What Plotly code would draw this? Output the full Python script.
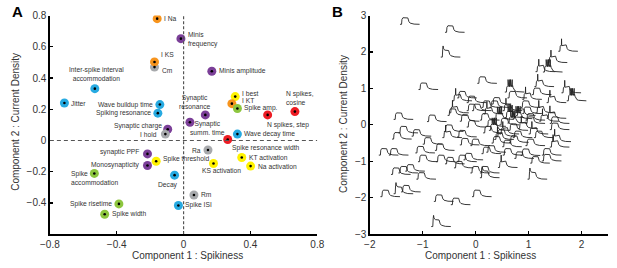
import plotly.graph_objects as go

# ---------------- Panel A data ----------------
feat_names = [
    "Cm", "I Na", "Minis<br>frequency", "I KS", "Minis amplitude",
    "Inter-spike interval<br>accommodation", "Jitter", "Wave buildup time",
    "Spiking resonance", "I best", "I KT", "Spike amp.", "N spikes,<br>cosine",
    "N spikes, step", "Synaptic<br>resonance", "Synaptic<br>summ. time",
    "Synaptic charge", "I hold", "Wave decay time", "Spike resonance width",
    "Ra", "synaptic PPF", "Spike threshold", "KT activation", "Monosynapticity",
    "KS activation", "Na activation", "Spike<br>accommodation", "Decay", "Rm",
    "Spike risetime", "Spike ISI", "Spike width",
]
feat_x = [
    -0.174, -0.158, -0.016, -0.174, 0.169,
    -0.531, -0.713, -0.142,
    -0.154, 0.309, 0.289, 0.322, 0.666,
    0.503, 0.130, 0.038,
    -0.095, -0.109, 0.322, 0.264,
    0.146, -0.216, -0.164, 0.348, -0.216,
    0.179, 0.401, -0.534, -0.054, 0.062,
    -0.387, -0.031, -0.472,
]
feat_y = [
    0.470, 0.780, 0.652, 0.503, 0.443,
    0.332, 0.240, 0.230,
    0.175, 0.281, 0.236, 0.205, 0.185,
    0.164, 0.164, 0.117,
    0.072, 0.041, 0.041, 0.006,
    -0.061, -0.086, -0.133, -0.109, -0.160,
    -0.147, -0.164, -0.211, -0.222, -0.349,
    -0.406, -0.416, -0.472,
]
feat_group = [
    "grey", "orange", "purple", "orange", "purple",
    "blue", "blue", "blue",
    "blue", "yellow", "orange", "green", "red",
    "red", "purple", "purple",
    "purple", "grey", "blue", "red",
    "grey", "purple", "yellow", "yellow", "purple",
    "yellow", "yellow", "green", "blue", "grey",
    "green", "blue", "green",
]

x_ticks_a = [-0.8, -0.4, 0, 0.4, 0.8]
y_ticks_a = [-0.4, -0.2, 0, 0.2, 0.4, 0.6, 0.8]

# ---------------- Panel B data ----------------
cell_x = [
    -1.43, -0.58, -0.66, 1.56, 1.36, 1.27, 1.13, -1.08, 0.03, 1.11,
    1.62, 1.72, 1.34, 1.06, 0.55, 0.88, 0.60, 0.30, -0.17, -0.44,
    -0.35, -0.50, -0.53, -0.17, -0.07, 0.11, 0.26, 0.51, 0.85, 1.13,
    0.88, 0.76, 0.70, 1.34, 0.94, 0.94, 1.40, 1.40, 0.08, 0.45,
    0.20, -0.17, 0.14, 0.39, 0.63, 0.94, 1.43, 1.40, -1.55, -0.92,
    -1.58, -1.21, -1.46, -1.00, -0.63, -0.60, -0.35, -0.10, 0.20, 0.51,
    0.85, 1.25, -1.83, -1.64, -1.14, -0.77, 0.11, 0.73, 1.03, 1.25,
    -1.09, -0.75, -0.58, -0.41, -0.35, -0.23, -0.10, 0.08, 0.42, 0.98,
    0.08, -1.60, -1.46, -1.33, -1.12, -1.80, -1.55, -1.41, -0.79, -0.47,
    -0.07, -0.84, 0.35, 0.55, 0.62, 0.30,
    0.25, 0.45, 0.60, 0.80, 0.35, 0.70, 1.00, 0.15, -0.30, -0.30,
    0.50, 1.10, 1.20,
]
cell_y = [
    2.76, 2.54, 1.86, 2.02, 1.71, 1.45, 1.46, 0.97, 1.14, 1.05,
    0.88, 0.66, 0.61, 0.83, 0.90, 0.70, 0.74, 0.57, 0.61, 0.66,
    0.74, 0.33, 0.26, 0.39, 0.39, 0.48, 0.48, 0.39, 0.48, 0.33,
    0.31, 0.26, 0.17, 0.18, 0.13, 0.04, 0.04, -0.13, 0.13, 0.00,
    -0.04, -0.06, -0.22, -0.31, -0.48, -0.57, -0.46, -0.61, 0.15, 0.09,
    -0.39, -0.31, -0.22, -0.53, -0.35, -0.18, -0.33, -0.57, -0.75, -0.83,
    -0.84, -0.83, -0.83, -0.83, -0.77, -0.70, -0.79, -0.92, -1.05, -0.99,
    -1.01, -1.01, -1.07, -1.18, -1.01, -0.96, -1.32, -1.32, -1.17, -1.49,
    -1.45, -1.36, -1.32, -1.27, -1.49, -1.97, -1.89, -1.84, -2.10, -2.19,
    -1.97, -2.79, 0.15, 0.20, -0.15, -0.50,
    -0.15, -0.25, 0.05, -0.10, -0.40, -0.35, -0.25, 0.30, 0.10, -0.55,
    -0.60, -0.35, 0.10,
]
cell_kind = [
    "p", "p", "t", "s", "s", "d", "s", "p", "p", "s",
    "s", "d", "s", "p", "d", "s", "p", "p", "p", "s",
    "p", "s", "p", "p", "p", "p", "p", "s", "p", "s",
    "p", "p", "d", "s", "p", "p", "p", "p", "p", "p",
    "p", "p", "p", "p", "p", "p", "s", "s", "p", "p",
    "p", "p", "p", "p", "s", "p", "p", "p", "p", "p",
    "p", "p", "p", "p", "p", "p", "p", "p", "p", "p",
    "p", "p", "p", "p", "p", "p", "p", "p", "s", "t",
    "t", "p", "p", "p", "p", "p", "t", "p", "p", "p",
    "p", "t", "d", "d", "p", "p",
    "d", "s", "d", "s", "s", "p", "s", "s", "p", "p",
    "p", "p", "s",
]

# voltage-trace templates (normalised time 0..1, normalised voltage)
passive_t = [0.00, 0.08, 0.10, 0.12, 0.15, 0.40, 0.42, 0.46, 0.52, 0.60, 0.72, 1.00]
passive_v = [0.00, 0.00, 0.75, 0.95, 1.00, 0.97, 0.70, 0.38, 0.18, 0.08, 0.03, 0.00]
tall_t = [0.00, 0.08, 0.10, 0.12, 0.14, 0.17, 0.22, 0.40, 0.42, 0.46, 0.52, 0.60, 0.72, 1.00]
tall_v = [0.00, 0.00, 1.20, 1.70, 1.35, 1.15, 1.05, 1.00, 0.72, 0.40, 0.20, 0.09, 0.03, 0.00]
spike_times = {
    "s": [0.16],
    "d": [0.16, 0.19, 0.22, 0.25, 0.28, 0.31, 0.34, 0.37],
}

# ---------------- styles ----------------
group_colors = {
    "blue": "#27AAE1", "orange": "#F7941D", "purple": "#7B3F98",
    "green": "#8DC63F", "yellow": "#FFF200", "red": "#ED1C24", "grey": "#A7A9AC",
}
# (xanchor, yanchor, xshift, yshift, align)
label_style = {
    "Cm": ("left", "middle", 6, -3, "left"),
    "I Na": ("left", "middle", 6, 0, "left"),
    "Minis<br>frequency": ("left", "middle", 6, -1, "left"),
    "I KS": ("left", "middle", 5, 7, "left"),
    "Minis amplitude": ("left", "middle", 6, 0, "left"),
    "Inter-spike interval<br>accommodation": ("center", "bottom", 2, 6, "center"),
    "Jitter": ("left", "middle", 6, 0, "left"),
    "Wave buildup time": ("right", "middle", -6, 0, "right"),
    "Spiking resonance": ("right", "middle", -6, 0, "right"),
    "I best": ("left", "middle", 6, 3, "left"),
    "I KT": ("left", "middle", 9, 3, "left"),
    "Spike amp.": ("left", "middle", 6, 0, "left"),
    "N spikes,<br>cosine": ("center", "bottom", 5, 5, "left"),
    "N spikes, step": ("left", "top", -2, -5, "left"),
    "Synaptic<br>resonance": ("center", "bottom", -10, 4, "center"),
    "Synaptic<br>summ. time": ("center", "middle", 18, -6, "center"),
    "Synaptic charge": ("right", "middle", -5, 3, "right"),
    "I hold": ("right", "middle", -7, 0, "right"),
    "Wave decay time": ("left", "middle", 6, 0, "left"),
    "Spike resonance width": ("left", "top", 3, -3, "left"),
    "Ra": ("right", "middle", -6, 0, "right"),
    "synaptic PPF": ("right", "middle", -7, 2, "right"),
    "Spike threshold": ("left", "middle", 6, 2, "left"),
    "KT activation": ("left", "middle", 6, 0, "left"),
    "Monosynapticity": ("right", "middle", -6, 0, "right"),
    "KS activation": ("center", "top", 8, -3, "center"),
    "Na activation": ("left", "middle", 6, 0, "left"),
    "Spike<br>accommodation": ("left", "top", -24, 4, "left"),
    "Decay": ("right", "top", 4, -5, "right"),
    "Rm": ("left", "middle", 6, 0, "left"),
    "Spike risetime": ("right", "middle", -6, 0, "right"),
    "Spike ISI": ("left", "middle", 6, 0, "left"),
    "Spike width": ("left", "middle", 6, 0, "left"),
}

FONT = "Liberation Sans, Arial, sans-serif"
TXT = "#333333"
W_GLYPH = 0.37
H_GLYPH = 0.18

fig = go.Figure()

# ---- Panel A ----
fig.add_trace(go.Scatter(
    x=feat_x, y=feat_y, mode="markers",
    marker=dict(size=9, color=[group_colors[g] for g in feat_group], line=dict(width=0)),
    xaxis="x", yaxis="y", hoverinfo="skip", showlegend=False,
))
fig.add_trace(go.Scatter(
    x=feat_x, y=feat_y, mode="markers",
    marker=dict(size=2.6, color="black"),
    xaxis="x", yaxis="y", hoverinfo="skip", showlegend=False,
))

annotations = []
for name, xv, yv in zip(feat_names, feat_x, feat_y):
    xa, ya, xs, ys, al = label_style[name]
    annotations.append(dict(
        x=xv, y=yv, xref="x", yref="y", text=name, showarrow=False,
        xanchor=xa, yanchor=ya, xshift=xs, yshift=ys, align=al,
        font=dict(family=FONT, size=6.7, color=TXT), borderpad=0,
    ))

shapes = [
    dict(type="line", xref="x", yref="y", x0=0, x1=0, y0=y_ticks_a[0] - 0.2, y1=y_ticks_a[-1],
         line=dict(color="#555555", width=1.2, dash="3px,2px")),
    dict(type="line", xref="x", yref="y", x0=x_ticks_a[0], x1=x_ticks_a[-1], y0=0, y1=0,
         line=dict(color="#555555", width=1.2, dash="4px,3px")),
]

# ---- Panel B ----
bx, by = [], []
for cx, cy, kind in zip(cell_x, cell_y, cell_kind):
    if kind == "t":
        ts, vs = tall_t, tall_v
    elif kind == "p":
        ts, vs = passive_t, passive_v
    else:
        ts, vs = [], []
        for t, v in zip(passive_t, passive_v):
            if t <= 0.15:
                ts.append(t); vs.append(v)
        for st in spike_times[kind]:
            ts += [st, st + 0.006, st + 0.014]
            vs += [1.0, 1.9, 0.85]
        for t, v in zip(passive_t, passive_v):
            if t >= 0.40:
                ts.append(t); vs.append(v)
    for t, v in zip(ts, vs):
        bx.append(cx + t * W_GLYPH)
        by.append(cy + v * H_GLYPH)
    bx.append(None); by.append(None)

fig.add_trace(go.Scatter(
    x=bx, y=by, mode="lines", line=dict(color="#222222", width=0.9),
    xaxis="x2", yaxis="y2", hoverinfo="skip", showlegend=False, connectgaps=False,
))

axis_common = dict(
    showline=True, linecolor="black", linewidth=1.5, ticks="inside", ticklen=3,
    tickwidth=1.2, tickcolor="black", showgrid=False, zeroline=False,
    tickfont=dict(family=FONT, size=10, color=TXT),
)

fig.update_layout(
    width=617, height=268, margin=dict(l=0, r=0, t=0, b=0),
    paper_bgcolor="white", plot_bgcolor="white",
    xaxis=dict(domain=[41 / 617, 316 / 617], range=[-0.8, 0.8], tickvals=x_ticks_a,
               anchor="y", **axis_common),
    yaxis=dict(domain=[29 / 268, 257 / 268], range=[-0.6, 0.8], tickvals=y_ticks_a,
               anchor="x", **axis_common),
    xaxis2=dict(domain=[370 / 617, 615 / 617], range=[-2, 2.5], tickvals=[-2, -1, 0, 1, 2],
                anchor="y2", **axis_common),
    yaxis2=dict(domain=[29 / 268, 257 / 268], range=[-3, 3], tickvals=[-3, -2, -1, 0, 1, 2, 3],
                anchor="x2", **axis_common),
    shapes=shapes,
)

title_font = dict(family=FONT, size=10, color=TXT)
annotations += [
    dict(x=182.7 / 617, y=1 - 261 / 268, xref="paper", yref="paper", text="Component 1 : Spikiness",
         showarrow=False, xanchor="center", yanchor="middle", font=title_font),
    dict(x=6 / 617, y=1 - 122 / 268, xref="paper", yref="paper", text="Component 2 : Current Density",
         showarrow=False, xanchor="center", yanchor="middle", textangle=-90, font=title_font),
    dict(x=484 / 617, y=1 - 261 / 268, xref="paper", yref="paper", text="Component 1 : Spikiness",
         showarrow=False, xanchor="center", yanchor="middle", font=title_font),
    dict(x=343.5 / 617, y=1 - 124 / 268, xref="paper", yref="paper", text="Component 2 : Current Density",
         showarrow=False, xanchor="center", yanchor="middle", textangle=-90, font=title_font),
    dict(x=7.5 / 617, y=1 - 7 / 268, xref="paper", yref="paper", text="<b>A</b>",
         showarrow=False, xanchor="center", yanchor="middle",
         font=dict(family=FONT, size=15, color="black")),
    dict(x=337 / 617, y=1 - 7 / 268, xref="paper", yref="paper", text="<b>B</b>",
         showarrow=False, xanchor="center", yanchor="middle",
         font=dict(family=FONT, size=15, color="black")),
]
fig.update_layout(annotations=annotations)

fig.write_html("out.html", config={"displayModeBar": False, "staticPlot": True},
               post_script="document.body.style.margin='0px';")
